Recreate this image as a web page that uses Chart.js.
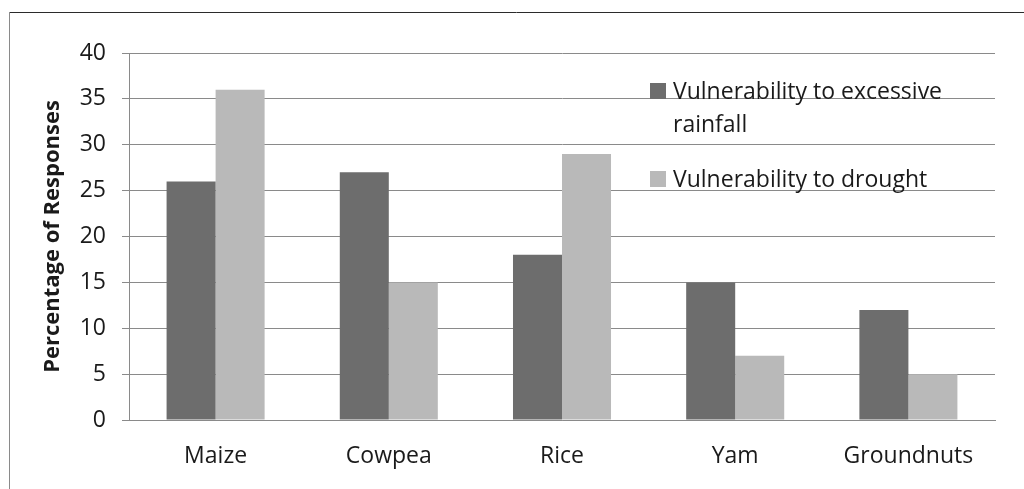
<!DOCTYPE html>
<html>
<head>
<meta charset="utf-8">
<script src="https://cdn.jsdelivr.net/npm/chart.js@4.4.1/dist/chart.umd.min.js"></script>
<style>
  html, body { margin: 0; padding: 0; background: #ffffff; }
  #wrap { width: 1024px; height: 489px; position: relative; }
</style>
</head>
<body>
<div id="wrap"><canvas id="chart" width="1024" height="489"></canvas></div>
<script>
// Crops surveyed and share of responses citing each hazard
const crops = ['Maize', 'Cowpea', 'Rice', 'Yam', 'Groundnuts'];
const excessiveRainfall = [26, 27, 18, 15, 12];
const drought = [36, 15, 29, 7, 5];
const seriesNames = ['Vulnerability to excessive rainfall', 'Vulnerability to drought'];
const yTicks = [0, 5, 10, 15, 20, 25, 30, 35, 40];

const FONT = '"Open Sans", Lato, sans-serif';
const TEXT = '#1a1a1a';
const GRID = '#8a8a8a';

// Outer frame (top and left edges visible)
const framePlugin = {
  id: 'frame',
  beforeDraw(chart) {
    const ctx = chart.ctx;
    ctx.save();
    ctx.lineWidth = 1;
    ctx.strokeStyle = '#2b2b2b';
    ctx.beginPath();
    ctx.moveTo(9, 12.5);
    ctx.lineTo(chart.width, 12.5);
    ctx.stroke();
    ctx.strokeStyle = '#8a8a8a';
    ctx.beginPath();
    ctx.moveTo(9.5, 12);
    ctx.lineTo(9.5, chart.height);
    ctx.stroke();
    ctx.restore();
  }
};

// Legend drawn inside the plot area, over the gridlines
const insideLegend = {
  id: 'insideLegend',
  afterDatasetsDraw(chart) {
    const ctx = chart.ctx;
    const x0 = 650, box = 16, textX = 673, maxW = 300, lineH = 33, itemGap = 22;
    let baseline = 99;
    ctx.save();
    ctx.font = '23px ' + FONT;
    ctx.textBaseline = 'alphabetic';
    chart.data.datasets.forEach((ds) => {
      // wrap label into lines
      const words = ds.label.split(' ');
      const lines = [];
      let cur = '';
      words.forEach(w => {
        const test = cur ? cur + ' ' + w : w;
        if (ctx.measureText(test).width > maxW && cur) { lines.push(cur); cur = w; }
        else cur = test;
      });
      if (cur) lines.push(cur);
      ctx.fillStyle = ds.backgroundColor;
      ctx.fillRect(x0, baseline - box, box, box);
      ctx.fillStyle = TEXT;
      lines.forEach((ln, i) => ctx.fillText(ln, textX, baseline + i * lineH));
      baseline += (lines.length - 1) * lineH + lineH + itemGap;
    });
    ctx.restore();
  }
};

new Chart(document.getElementById('chart'), {
  type: 'bar',
  data: {
    labels: crops,
    datasets: [
      { label: seriesNames[0], data: excessiveRainfall, backgroundColor: '#6d6d6d',
        categoryPercentage: 0.566, barPercentage: 1.0 },
      { label: seriesNames[1], data: drought, backgroundColor: '#b9b9b9',
        categoryPercentage: 0.566, barPercentage: 1.0 }
    ]
  },
  options: {
    responsive: false,
    animation: false,
    layout: { padding: { left: 0, top: 53, right: 29, bottom: 0 } },
    plugins: {
      legend: { display: false },
      tooltip: { enabled: false }
    },
    scales: {
      x: {
        grid: { display: false, drawTicks: false },
        border: { display: true, color: GRID, width: 1 },
        ticks: { color: TEXT, font: { family: FONT, size: 23 }, padding: 23 },
        afterFit(scale) { scale.height = 69; }
      },
      y: {
        min: 0, max: 40,
        afterBuildTicks(scale) { scale.ticks = yTicks.map(v => ({ value: v })); },
        grid: { color: GRID, lineWidth: 1, tickLength: 7, drawTicks: true },
        border: { display: true, color: GRID, width: 1 },
        ticks: { color: TEXT, font: { family: FONT, size: 23 }, padding: 16 },
        title: {
          display: true, text: 'Percentage of Responses', color: TEXT,
          font: { family: FONT, size: 22, weight: 'bold' },
          padding: { top: 40, bottom: 0 }
        },
        afterFit(scale) { scale.width = 129; }
      }
    }
  },
  plugins: [framePlugin, insideLegend]
});
</script>
</body>
</html>
